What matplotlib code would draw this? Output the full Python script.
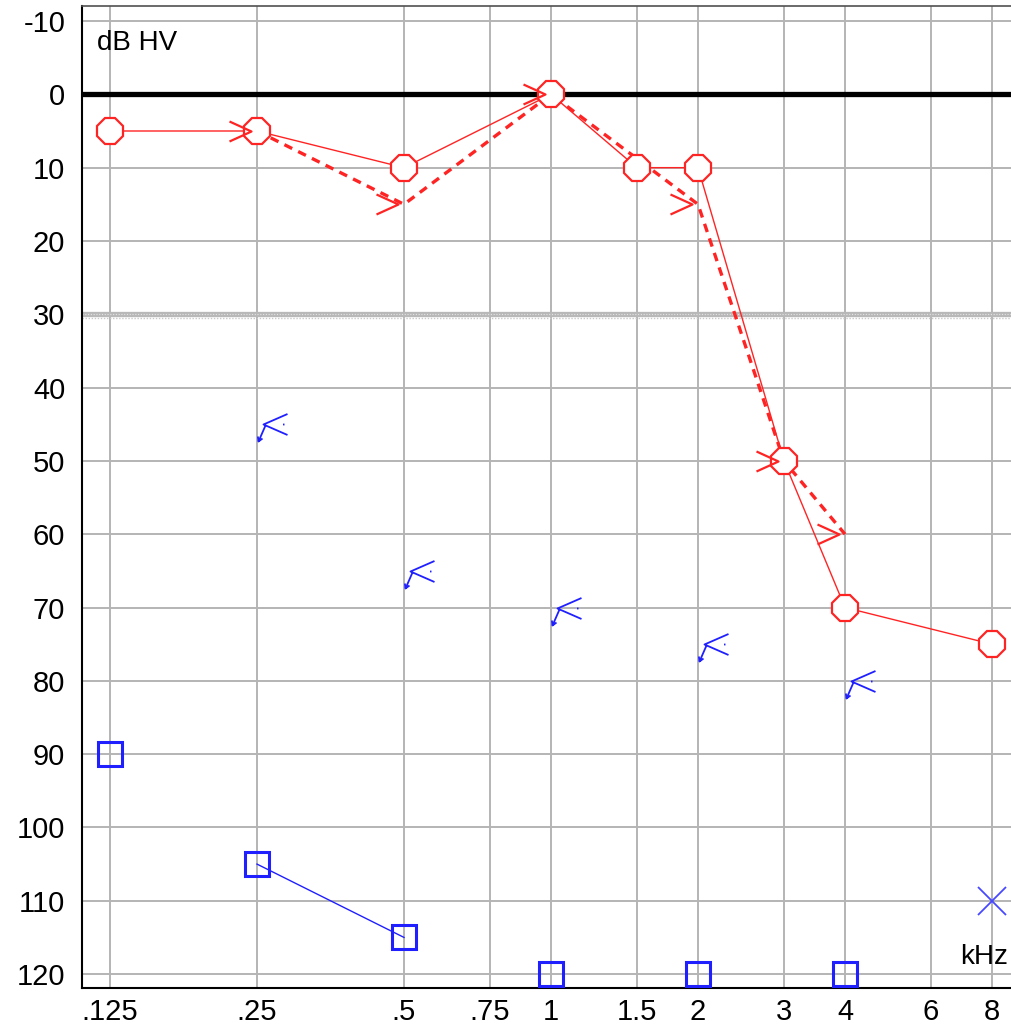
import numpy as np
import matplotlib
matplotlib.use("Agg")
import matplotlib.pyplot as plt
from matplotlib.path import Path
from matplotlib.transforms import ScaledTranslation

plt.rcParams['font.family'] = ['Liberation Sans', 'DejaVu Sans']
plt.rcParams['axes.unicode_minus'] = False

# eje x: frecuencias en kHz
frecuencias = [0.125, 0.25, 0.5, 0.75, 1, 1.5, 2, 3, 4, 6, 8]
etiquetas_x = [".125", ".25", ".5", ".75", "1", "1.5", "2", "3", "4", "6", "8"]
niveles_y = list(range(-10, 130, 10))

# oido derecho, via aerea (circulos)
der_aerea_f = [0.125, 0.25, 0.5, 1, 1.5, 2, 3, 4, 8]
der_aerea_db = [5, 5, 10, 0, 10, 10, 50, 70, 75]

# oido derecho, via osea enmascarada (>)
der_osea_f = [0.25, 0.5, 1, 2, 3, 4]
der_osea_db = [5, 15, 0, 15, 50, 60]

# oido izquierdo, via osea sin respuesta (<)
izq_osea_f = [0.25, 0.5, 1, 2, 4]
izq_osea_db = [45, 65, 70, 75, 80]

# oido izquierdo, via aerea enmascarada (cuadrados)
izq_aerea_f = [0.125, 0.25, 0.5, 1, 2, 4]
izq_aerea_db = [90, 105, 115, 120, 120, 120]
izq_aerea_resp = [False, True, True, False, False, False]

# oido izquierdo, via aerea (x)
izq_x_f = [8]
izq_x_db = [110]

ROJO = '#ff2424'
AZUL = '#2020ff'
DPI = 100


# marcador a partir de segmentos en pixeles (y hacia arriba)
def marcador(segmentos):
    verts, codes = [], []
    for seg in segmentos:
        verts += seg
        codes += [Path.MOVETO] + [Path.LINETO] * (len(seg) - 1)
    tam = 2 * np.max(np.abs(verts)) * 72 / DPI
    return Path(verts, codes), tam


mayor, tam_mayor = marcador([[(-28, 10), (-6, 0), (-28, -10)]])
menor, tam_menor = marcador([[(30, 10.5), (6, 0), (30, -10.5)],
                             [(25.5, 0), (27, 0)],
                             [(8, -1), (1, -17)],
                             [(0.4, -12), (1, -17), (5, -14)]])

fig = plt.figure(figsize=(10.12, 10.30), dpi=DPI)
ax = fig.add_axes([82 / 1012, 42 / 1030, 930 / 1012, 982 / 1030])
ax.set_xscale('log', base=2)
ax.set_xlim(0.125 * 2 ** (-28 / 147), 8 * 2 ** (20 / 147))
ax.set_ylim(121.9, -12.05)
ax.set_xticks(frecuencias, etiquetas_x)
ax.set_yticks(niveles_y)
ax.minorticks_off()
ax.tick_params(length=0, labelsize=21)
ax.tick_params(axis='x', pad=7)
ax.tick_params(axis='y', pad=12)
ax.grid(color='#b4b4b4', lw=1.4)
ax.set_axisbelow(True)

for lado in ['left', 'bottom']:
    ax.spines[lado].set_color('black')
    ax.spines[lado].set_linewidth(1.5)
ax.spines['top'].set_color('#505050')
ax.spines['top'].set_linewidth(1.2)
ax.spines['right'].set_visible(False)

# lineas de referencia
ax.axhline(0, color='black', lw=3.8, zorder=2)
ax.axhline(30, color='#b8b8b8', lw=3.8, zorder=2)
ax.axhline(30, color='#e4e4e4', lw=0.8, ls=(0, (1, 1.5)), zorder=2)
abajo = ax.get_yaxis_transform() + ScaledTranslation(0, -4 / DPI, fig.dpi_scale_trans)
ax.plot([0, 1], [30, 30], transform=abajo, color='#c8c8c8', lw=1, ls=(0, (1, 1.2)), zorder=2)

# oido derecho
ax.plot(der_aerea_f, der_aerea_db, color=ROJO, lw=1, zorder=3)
ax.plot(der_osea_f, der_osea_db, color=ROJO, lw=2.4, ls=(0, (2.6, 2)), zorder=3)
ax.plot(der_aerea_f, der_aerea_db, ls='none', marker='8', ms=20.5, mfc='white',
        mec=ROJO, mew=1.6, zorder=4, clip_on=False)
ax.plot(der_osea_f, der_osea_db, ls='none', marker=mayor, ms=tam_mayor, mfc='none',
        mec=ROJO, mew=1.6, zorder=5, clip_on=False)

# oido izquierdo
linea_izq = np.where(izq_aerea_resp, izq_aerea_db, np.nan)
ax.plot(izq_aerea_f, linea_izq, color=AZUL, lw=1, zorder=3)
ax.plot(izq_aerea_f, izq_aerea_db, ls='none', marker='s', ms=17.5, mfc='none',
        mec=AZUL, mew=2.2, zorder=4, clip_on=False)
ax.plot(izq_osea_f, izq_osea_db, ls='none', marker=menor, ms=tam_menor, mfc='none',
        mec=AZUL, mew=1.3, zorder=4, clip_on=False)
ax.plot(izq_x_f, izq_x_db, ls='none', marker='x', ms=20, mec='#4848ff', mew=1.3,
        zorder=4, clip_on=False)

ax.text(0.016, 0.962, 'dB HV', transform=ax.transAxes, fontsize=20, va='center', ha='left')
ax.text(0.9957, 0.0316, 'kHz', transform=ax.transAxes, fontsize=20, va='center', ha='right')

fig.savefig('out.png', dpi=DPI)
